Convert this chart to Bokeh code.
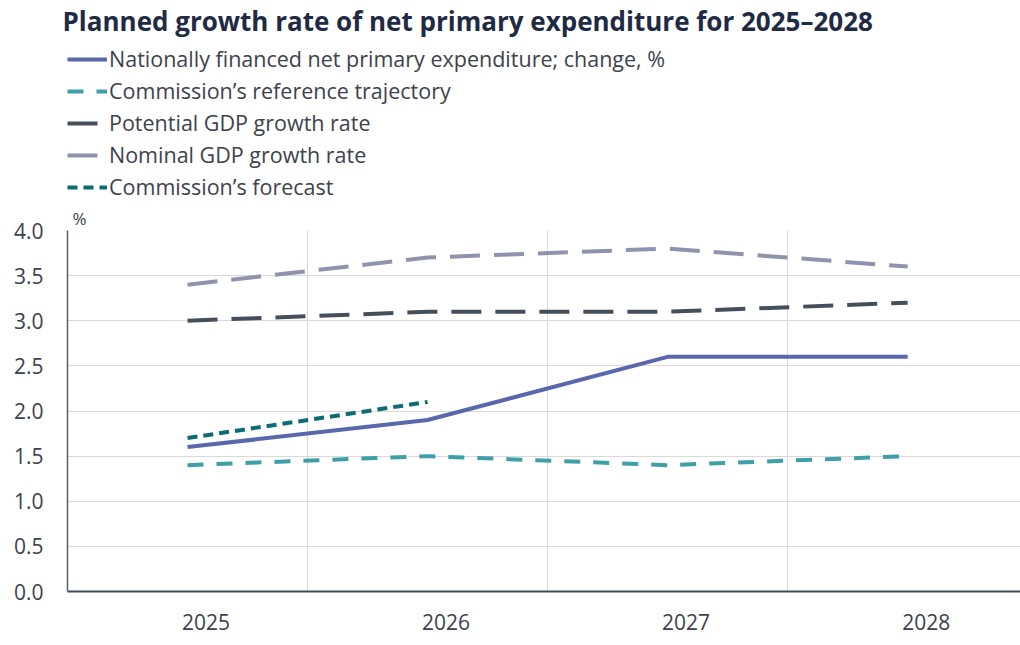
from bokeh.plotting import figure
from bokeh.layouts import column
from bokeh.models import Range1d, FixedTicker, Legend, LegendItem, Title
from bokeh.embed import file_html
from bokeh.resources import INLINE

years = ["2025", "2026", "2027", "2028"]
national = [1.6, 1.9, 2.6, 2.6]
reference = [1.4, 1.5, 1.4, 1.5]
potential = [3.0, 3.1, 3.1, 3.2]
nominal = [3.4, 3.7, 3.8, 3.6]
forecast = [1.7, 2.1]
y_ticks = [0.0, 0.5, 1.0, 1.5, 2.0, 2.5, 3.0, 3.5, 4.0]

labels = {
    "national": "Nationally financed net primary expenditure; change, %",
    "reference": "Commission\u2019s reference trajectory",
    "potential": "Potential GDP growth rate",
    "nominal": "Nominal GDP growth rate",
    "forecast": "Commission\u2019s forecast",
}
styles = {
    "national": dict(line_color="#5a67ad", line_width=4, line_dash="solid"),
    "reference": dict(line_color="#3e9fa8", line_width=4, line_dash="16 13"),
    "potential": dict(line_color="#454f5c", line_width=4, line_dash="30 14"),
    "nominal": dict(line_color="#8f93ad", line_width=4, line_dash="30 14"),
    "forecast": dict(line_color="#0d6b73", line_width=4, line_dash="10 6"),
}
order = ["national", "reference", "potential", "nominal", "forecast"]

FONT = "Open Sans"
TXT = "#3d424c"
W = 1020
TOP_H = 203
BOT_H = 645 - TOP_H

xs = list(range(len(years)))

# ---------------- header: title + legend ----------------
top = figure(width=W, height=TOP_H, output_backend="svg", toolbar_location=None,
             x_range=Range1d(0, 1), y_range=Range1d(0, 1),
             min_border=0, min_border_left=67, x_axis_type=None, y_axis_type=None)
top.outline_line_color = None
top.grid.visible = False
top.title.text = "Planned growth rate of net primary expenditure for 2025\u20132028"
top.title.align = "left"
top.title.offset = -5
top.title.standoff = 0
top.title.text_font = FONT
top.title.text_font_size = "26px"
top.title.text_font_style = "bold"
top.title.text_color = "#1f2a44"

nan = float("nan")
dummy = {k: top.line([nan], [nan], **styles[k]) for k in order}
legend = Legend(items=[LegendItem(label=labels[k], renderers=[dummy[k]]) for k in order],
                location=(0, 2), orientation="vertical",
                glyph_width=40, glyph_height=26, label_height=26, spacing=3,
                label_standoff=2, padding=0, margin=0,
                border_line_color=None, background_fill_alpha=0,
                label_text_font=FONT, label_text_font_size="21.5px",
                label_text_color=TXT)
top.add_layout(legend, "center")

# ---------------- chart ----------------
p = figure(width=W, height=BOT_H, output_backend="svg", toolbar_location=None,
           x_range=Range1d(-0.5, 3.47), y_range=Range1d(0, 4.0),
           min_border_left=67, min_border_right=0, min_border_top=26,
           min_border_bottom=54)
p.outline_line_color = None

p.title = Title(text="%", align="left", offset=5, standoff=2,
                text_font=FONT, text_font_size="17px", text_font_style="normal",
                text_color=TXT)

p.ygrid.ticker = FixedTicker(ticks=y_ticks)
p.ygrid.grid_line_color = "#d9d9d9"
p.ygrid.grid_line_width = 1
p.xgrid.ticker = FixedTicker(ticks=[0.5, 1.5, 2.5])
p.xgrid.grid_line_color = "#d9d9d9"
p.xgrid.grid_line_width = 1

p.yaxis.ticker = FixedTicker(ticks=y_ticks)
p.yaxis.major_label_overrides = {t: f"{t:.1f}" for t in y_ticks}
p.yaxis.axis_line_color = "#5a6270"
p.yaxis.axis_line_width = 1.5
p.yaxis.major_tick_line_color = None
p.yaxis.minor_tick_line_color = None
p.yaxis.major_tick_out = 0
p.yaxis.major_label_standoff = 24
p.yaxis.major_label_text_font = FONT
p.yaxis.major_label_text_font_size = "21px"
p.yaxis.major_label_text_color = TXT

lab_pos = [i + 0.077 for i in xs]
p.xaxis.ticker = FixedTicker(ticks=lab_pos)
p.xaxis.major_label_overrides = {pos: y for pos, y in zip(lab_pos, years)}
p.xaxis.axis_line_color = "#404a58"
p.xaxis.axis_line_width = 2
p.xaxis.major_tick_line_color = None
p.xaxis.minor_tick_line_color = None
p.xaxis.major_tick_out = 0
p.xaxis.major_label_standoff = 22
p.xaxis.major_label_text_font = FONT
p.xaxis.major_label_text_font_size = "21px"
p.xaxis.major_label_text_color = TXT

series = {"nominal": nominal, "potential": potential, "reference": reference,
          "national": national, "forecast": forecast}
for k in ["nominal", "potential", "reference", "national", "forecast"]:
    vals = series[k]
    p.line(xs[:len(vals)], vals, **styles[k])

layout = column(top, p, spacing=0)
open("out.html", "w").write(file_html(layout, INLINE))
